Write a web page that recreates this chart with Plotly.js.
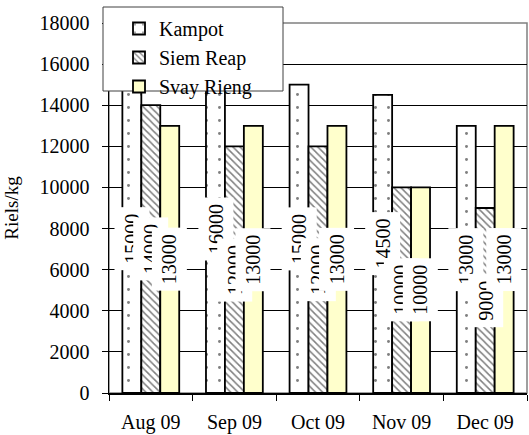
<!DOCTYPE html>
<html>
<head>
<meta charset="utf-8">
<script src="https://cdn.plot.ly/plotly-3.0.1.min.js"></script>
<style>html,body{margin:0;padding:0;background:#fff}#chart{width:529px;height:435px}</style>
</head>
<body>
<div id="chart"></div>
<script>
const months = ["Aug 09", "Sep 09", "Oct 09", "Nov 09", "Dec 09"];
const kampot = [15000, 16000, 15000, 14500, 13000];
const siemReap = [14000, 12000, 12000, 10000, 9000];
const svayRieng = [13000, 13000, 13000, 10000, 13000];
const seriesNames = ["Kampot", "Siem Reap", "Svay Rieng"];
const yTicks = [0, 2000, 4000, 6000, 8000, 10000, 12000, 14000, 16000, 18000];

const FONT = "Liberation Serif";
const W = 529, H = 435;
const M = {l: 109, r: 2, t: 23, b: 42};
const plotW = W - M.l - M.r, plotH = H - M.t - M.b;
const BARGAP = 0.32;
const px = v => (v - M.l) / plotW;
const py = v => (H - M.b - v) / plotH;

const series = [kampot, siemReap, svayRieng];
const styles = [
  {color: "#ffffff", pattern: {shape: ".", size: 13, solidity: 0.04, fgcolor: "#000000", bgcolor: "#ffffff", fillmode: "overlay"}},
  {color: "#ffffff", pattern: {shape: "\\", size: 5, solidity: 0.3, fgcolor: "#000000", bgcolor: "#ffffff", fillmode: "overlay"}},
  {color: "#ffffcc"}
];

const traces = series.map((vals, i) => ({
  type: "bar",
  name: seriesNames[i],
  x: months,
  y: vals,
  marker: Object.assign({line: {color: "#000000", width: 1.8}}, styles[i]),
  hoverinfo: "none"
}));

const barW = plotW / months.length * (1 - BARGAP) / series.length;
const annotations = [];
series.forEach((vals, i) => {
  vals.forEach((v, j) => {
    annotations.push({
      x: months[j], y: v / 2, xref: "x", yref: "y",
      xshift: (i - 1) * barW,
      text: String(v), showarrow: false, textangle: -90,
      bgcolor: "#ffffff", borderpad: 6,
      font: {family: FONT, size: 20, color: "#000000"}
    });
  });
});

const layout = {
  width: W, height: H,
  margin: M,
  paper_bgcolor: "#ffffff", plot_bgcolor: "#ffffff",
  font: {family: FONT, size: 20, color: "#000000"},
  barmode: "group", bargap: BARGAP, bargroupgap: 0,
  showlegend: true,
  legend: {
    x: px(119), y: py(9), xanchor: "left", yanchor: "top",
    bgcolor: "rgba(0,0,0,0)", borderwidth: 0,
    font: {family: FONT, size: 20, color: "#000000"},
    itemwidth: 30
  },
  xaxis: {
    type: "category", tickson: "boundaries", ticks: "outside", ticklen: 6,
    tickcolor: "#000000", showline: true, linecolor: "#000000", linewidth: 1.5,
    showgrid: false, ticklabelstandoff: 10,
    tickfont: {family: FONT, size: 20, color: "#000000"}
  },
  yaxis: {
    range: [0, 18000], tickvals: yTicks, ticktext: yTicks.map(String),
    ticks: "outside", ticklen: 6, tickcolor: "#000000",
    showline: true, linecolor: "#000000", linewidth: 1.5,
    showgrid: true, gridcolor: "#000000", gridwidth: 1, zeroline: false,
    ticklabelstandoff: 8,
    tickfont: {family: FONT, size: 20, color: "#000000"},
    title: {text: "Riels/kg", standoff: 16, font: {family: FONT, size: 19, color: "#000000"}}
  },
  shapes: [
    {type: "rect", xref: "paper", yref: "paper", x0: 0, x1: 1, y0: 0, y1: 1,
     line: {color: "#808080", width: 1.5}, layer: "between"},
    {type: "rect", xref: "paper", yref: "paper", x0: px(103), x1: px(283), y0: py(91), y1: py(7),
     line: {color: "#404040", width: 1}, fillcolor: "#ffffff", layer: "above"}
  ],
  annotations: annotations
};

Plotly.newPlot("chart", traces, layout, {staticPlot: true, displayModeBar: false});
</script>
</body>
</html>
